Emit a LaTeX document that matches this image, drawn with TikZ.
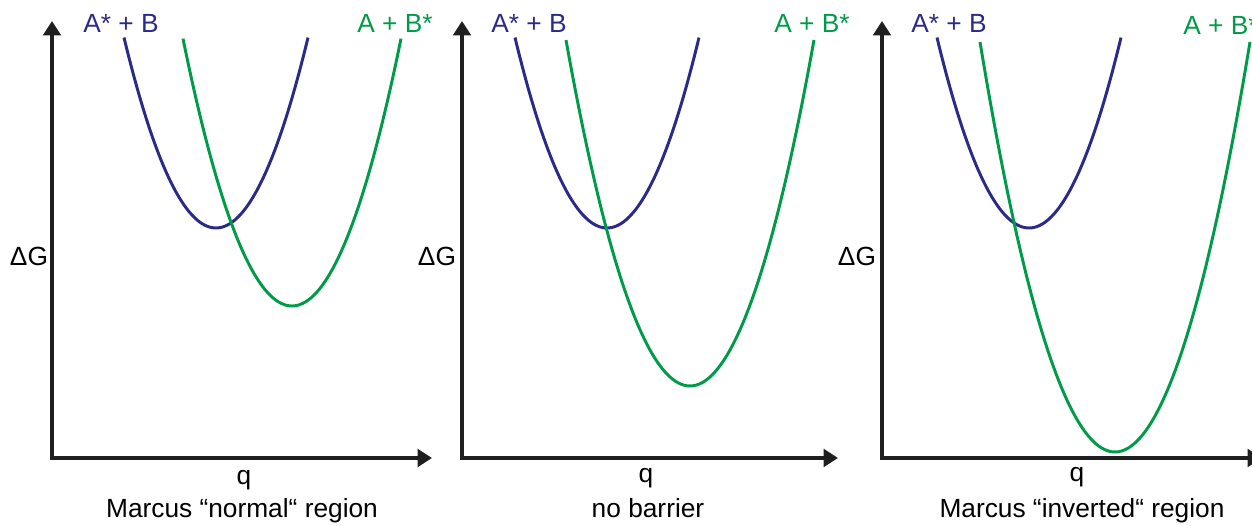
\documentclass[tikz,border=0pt]{standalone}
\usepackage{fontspec}
\setmainfont{Liberation Sans}
\usetikzlibrary{arrows.meta, positioning}
\definecolor{navyline}{RGB}{43,42,134}
\definecolor{greenline}{RGB}{0,155,72}

\begin{document}
\begin{tikzpicture}[
  x=0.025cm, y=0.025cm,
  axis/.style={{Triangle[length=0.36cm, width=0.44cm]}-{Triangle[length=0.36cm, width=0.44cm]},
    line width=2.3pt, draw=black!88},
  well/.style={line width=2.1pt, samples=81},
  lbl/.style={font=\fontsize{18.7}{22}\selectfont, inner sep=0pt, anchor=base}
]
  \useasboundingbox (0,0) rectangle (1252,526);

  % Axes
  \coordinate (o1) at (52,68);   \coordinate (ytop1) at (52,505);   \coordinate (xend1) at (432,68);
  \coordinate (o2) at (462,68);  \coordinate (ytop2) at (462,505);  \coordinate (xend2) at (838,68);
  \coordinate (o3) at (882,68);  \coordinate (ytop3) at (882,505);  \coordinate (xend3) at (1262,68);
  \draw[axis] (ytop1) -- (o1) -- (xend1);
  \draw[axis] (ytop2) -- (o2) -- (xend2);
  \draw[axis] (ytop3) -- (o3) -- (xend3);

  % Curves (x in tenths, so the squares stay small)
  \draw[well, navyline]  plot[domain=-9.2:9.2]   ({216+10*\x},{298+2.25*\x*\x});
  \draw[well, greenline] plot[domain=-10.9:10.9] ({292+10*\x},{220+2.25*\x*\x});
  \draw[well, navyline]  plot[domain=-9.2:9.2]   ({607+10*\x},{298+2.25*\x*\x});
  \draw[well, greenline] plot[domain=-12.4:12.4] ({690+10*\x},{140+2.25*\x*\x});
  \draw[well, navyline]  plot[domain=-9.2:9.2]   ({1029+10*\x},{298+2.25*\x*\x});
  \draw[well, greenline] plot[domain=-13.5:13.5] ({1115+10*\x},{74+2.25*\x*\x});

  % Labels
  \node[lbl, text=navyline]  (react1) at (121,493) {A* + B};
  \node[lbl, text=greenline] (prod1)  at (395,493) {A + B*};
  \node[lbl]                 (dg1)    at (29,260)  {ΔG};
  \node[lbl]                 (q1)     at (244,41)  {q};
  \node[lbl]                 (cap1)   at (242,8)   {Marcus “normal“ region};

  \node[lbl, text=navyline]  (react2) at (529,493) {A* + B};
  \node[lbl, text=greenline] (prod2)  at (812,493) {A + B*};
  \node[lbl]                 (dg2)    at (437,260) {ΔG};
  \node[lbl]                 (q2)     at (646,43)  {q};
  \node[lbl]                 (cap2)   at (648,8)   {no barrier};

  \node[lbl, text=navyline]  (react3) at (949,493) {A* + B};
  \node[lbl, text=greenline, anchor=base west] (prod3) at (1183,491) {A + B*};
  \node[lbl]                 (dg3)    at (857,260) {ΔG};
  \node[lbl]                 (q3)     at (1077,44) {q};
  \node[lbl]                 (cap3)   at (1082,8)  {Marcus “inverted“ region};
\end{tikzpicture}
\end{document}
